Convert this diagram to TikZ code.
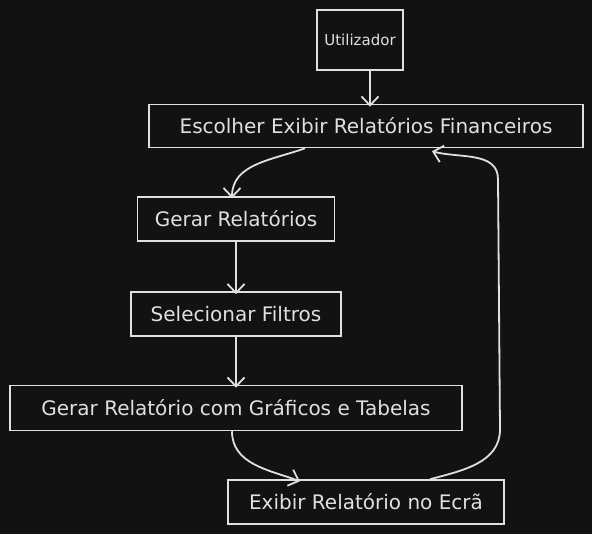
\documentclass[tikz,border=0pt]{standalone}
\usepackage{fontspec}
\setmainfont{DejaVu Sans}
\usetikzlibrary{arrows.meta, positioning}
\definecolor{bgdark}{HTML}{121212}
\definecolor{ink}{HTML}{E0E0E0}

\begin{document}
\begin{tikzpicture}[x=1pt, y=-1pt,
    block/.style={rectangle, draw=ink, line width=1.5pt, fill=bgdark, text=ink, inner sep=0pt, font=\fontsize{20}{24}\selectfont},
    arrow/.style={-{Straight Barb[length=9pt, width=17pt]}, draw=ink, line width=1.8pt},
]

% Background
\fill[bgdark] (0,0) rectangle (592,534);

% Boxes
\node[block, minimum width=86pt, minimum height=60pt, font=\fontsize{15}{18}\selectfont] (user) at (360, 40) {Utilizador};
\node[block, minimum width=434pt, minimum height=43pt] (choose) at (366, 126) {Escolher Exibir Relatórios Financeiros};
\node[block, minimum width=197pt, minimum height=44pt] (gen) at (236, 219) {Gerar Relatórios};
\node[block, minimum width=210pt, minimum height=44pt] (filters) at (236, 314) {Selecionar Filtros};
\node[block, minimum width=452pt, minimum height=45pt] (genfull) at (236, 408) {Gerar Relatório com Gráficos e Tabelas};
\node[block, minimum width=276pt, minimum height=44pt] (show) at (366, 502) {Exibir Relatório no Ecrã};

% Connections
\draw[arrow] ([xshift=10pt]user.south) -- ([xshift=4pt, yshift=-3pt]choose.north);
\draw[arrow] ([xshift=-61pt]choose.south) to[out=200, in=90] ([xshift=-4pt, yshift=-2pt]gen.north);
\draw[arrow] (gen) -- ([yshift=-3pt]filters.north);
\draw[arrow] (filters) -- ([yshift=-3pt]genfull.north);
\draw[arrow] ([xshift=-4pt]genfull.south) to[out=-90, in=160] ([xshift=-66pt, yshift=-2pt]show.north);
\draw[arrow] ([xshift=64pt]show.north) to[out=15, in=-90] ++(70,-50) -- ++(-2,-250)
    to[out=90, in=-15] ([xshift=66pt, yshift=-3pt]choose.south);

\end{tikzpicture}
\end{document}
